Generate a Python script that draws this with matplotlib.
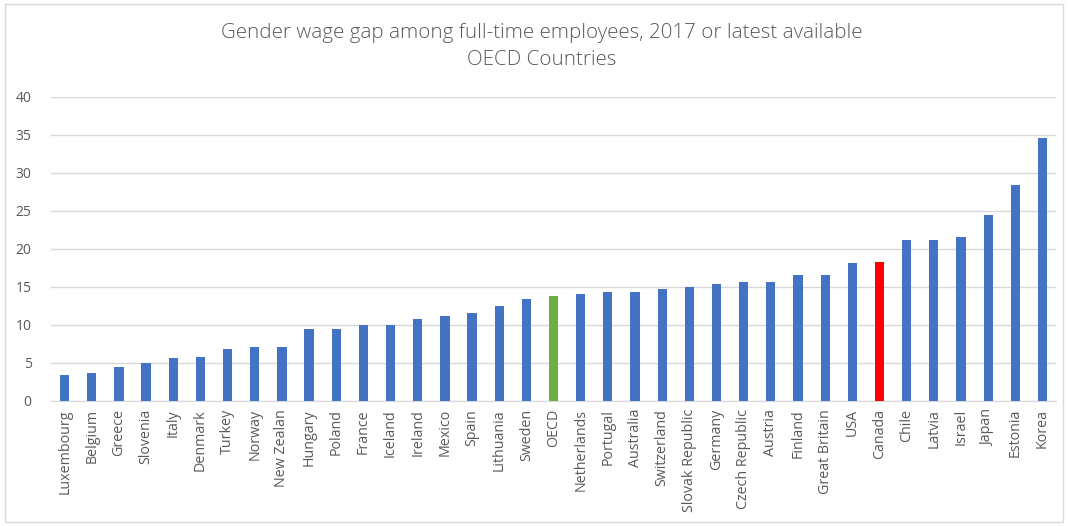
import numpy as np
import matplotlib; matplotlib.use("Agg")
import matplotlib.pyplot as plt
from matplotlib.patches import Rectangle

countries = ["Luxembourg", "Belgium", "Greece", "Slovenia", "Italy", "Denmark", "Turkey",
             "Norway", "New Zealan", "Hungary", "Poland", "France", "Iceland", "Ireland",
             "Mexico", "Spain", "Lithuania", "Sweden", "OECD", "Netherlands", "Portugal",
             "Australia", "Switzerland", "Slovak Republic", "Germany", "Czech Republic",
             "Austria", "Finland", "Great Britain", "USA", "Canada", "Chile", "Latvia",
             "Israel", "Japan", "Estonia", "Korea"]
gap = [3.4, 3.7, 4.4, 5.0, 5.6, 5.8, 6.8, 7.1, 7.1, 9.4, 9.4, 10.0, 10.0, 10.7,
       11.1, 11.6, 12.5, 13.4, 13.8, 14.1, 14.3, 14.3, 14.7, 15.0, 15.4, 15.6,
       15.6, 16.5, 16.5, 18.1, 18.3, 21.1, 21.1, 21.5, 24.5, 28.4, 34.6]
highlight = {"OECD": "#70ad47", "Canada": "#ff0000"}
base = "#4472c4"

txt = "#595959"
plt.rcParams["font.family"] = ["Open Sans", "DejaVu Sans"]

fig = plt.figure(figsize=(10.68, 5.26), dpi=100)
ax = fig.add_axes([0.0478, 0.2382, 0.941, 0.5774])
x = np.arange(len(countries))
cols = [highlight.get(c, base) for c in countries]
ax.bar(x, gap, width=0.34, color=cols, zorder=3)

ax.set_xlim(-0.5, len(countries) - 0.5)
ax.set_ylim(0, 40)
ax.set_yticks(range(0, 41, 5))
ax.set_xticks(x)
ax.set_xticklabels(countries, rotation=90, fontsize=10.3, color=txt)
ax.tick_params(axis="y", labelsize=10, colors=txt, length=0, pad=14)
ax.tick_params(axis="x", length=0, pad=6)
ax.grid(axis="y", color="#d9d9d9", lw=1, zorder=0)
for s in ["top", "right", "left"]:
    ax.spines[s].set_visible(False)
ax.spines["bottom"].set_color("#d9d9d9")

title_font = ["Open Sans", "DejaVu Sans"]
fig.text(0.507, 0.937, "Gender wage gap among full-time employees, 2017 or latest available",
         ha="center", va="center", fontsize=14.8, color=txt, fontweight="light",
         family=title_font)
fig.text(0.507, 0.886, "OECD Countries", ha="center", va="center", fontsize=14.8,
         color=txt, fontweight="light", family=title_font)

fig.patches.append(Rectangle((0.005, 0.008), 0.99, 0.985, transform=fig.transFigure,
                             fill=False, edgecolor="#d9d9d9", lw=1))
fig.savefig("out.png", dpi=100)
